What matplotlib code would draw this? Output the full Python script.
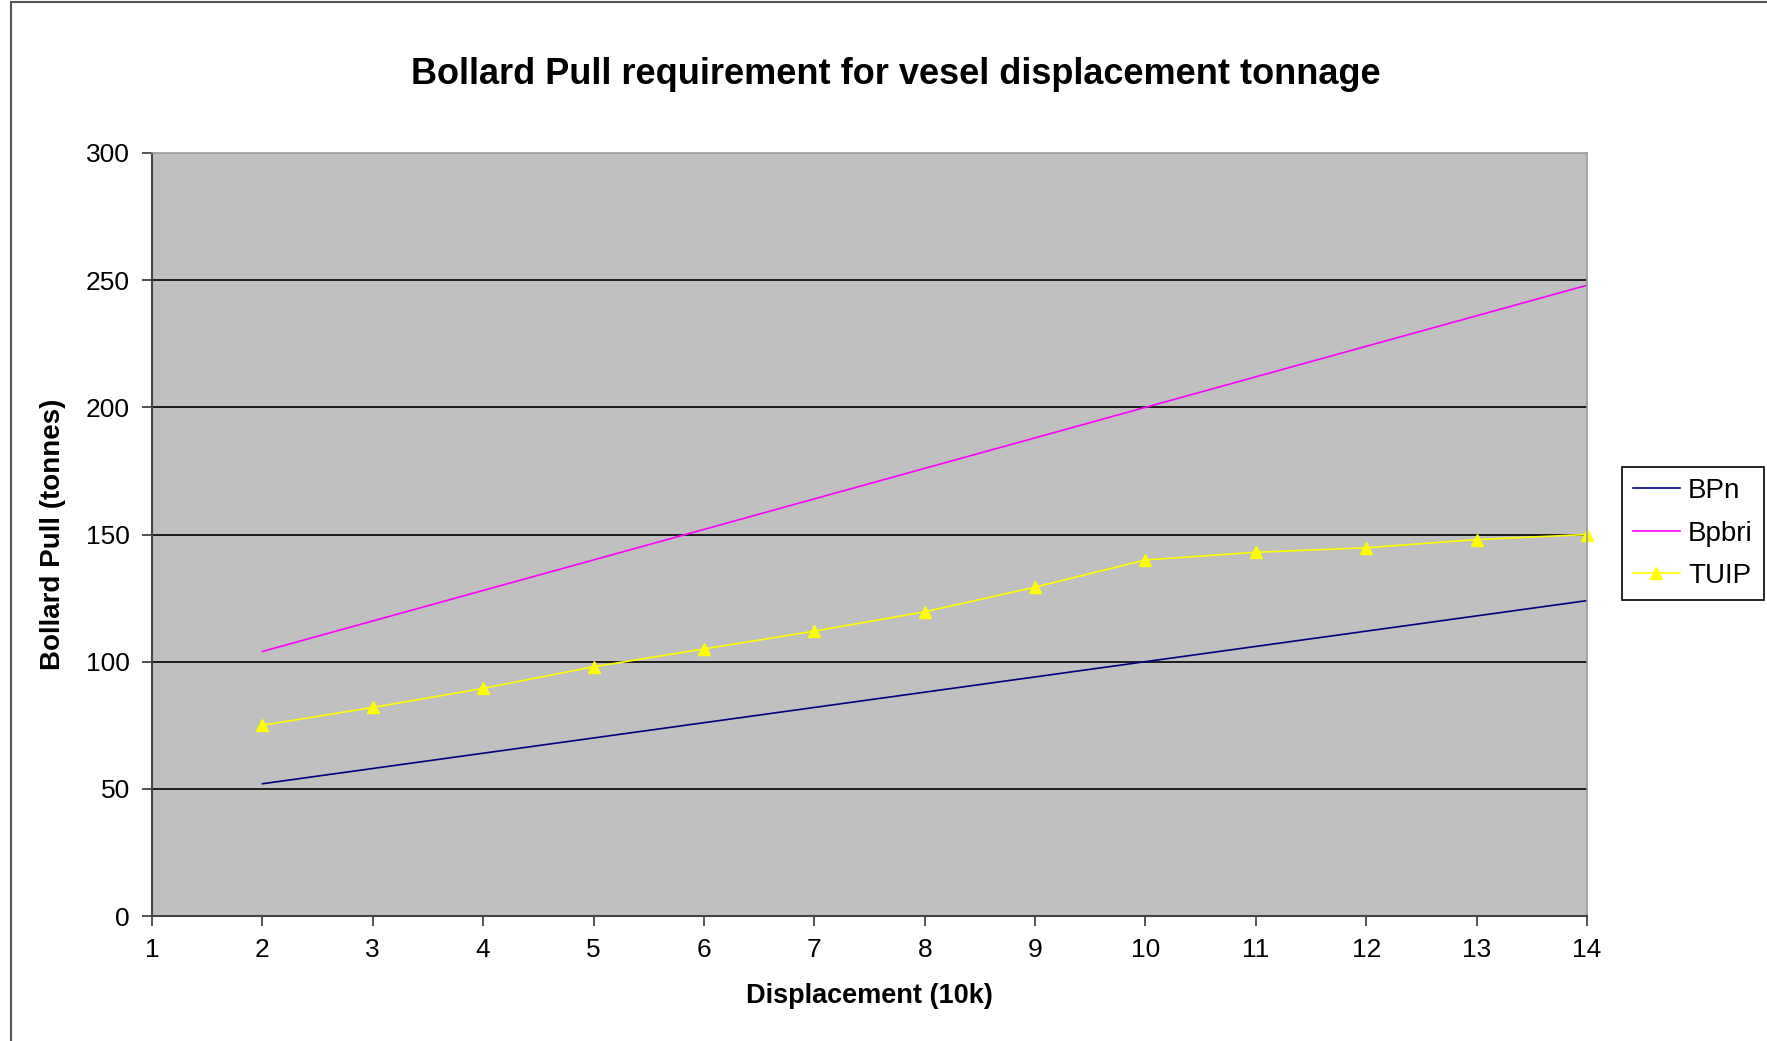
import matplotlib.pyplot as plt
from matplotlib.patches import Rectangle

plt.rcParams['font.family'] = ['Liberation Sans', 'DejaVu Sans']

# data
displacement = [2, 3, 4, 5, 6, 7, 8, 9, 10, 11, 12, 13, 14]
bpn = [52, 58, 64, 70, 76, 82, 88, 94, 100, 106, 112, 118, 124]
bpbri = [104, 116, 128, 140, 152, 164, 176, 188, 200, 212, 224, 236, 248]
tuip = [75, 82, 89.5, 98, 105, 112, 119.6, 129.3, 140, 143, 144.8, 148, 150]
x_ticks = list(range(1, 15))
y_ticks = [0, 50, 100, 150, 200, 250, 300]

W, H = 1767, 1041
fig = plt.figure(figsize=(W / 100, H / 100), dpi=100)

# outer chart border (cut off on right/bottom like the screenshot)
fig.patches.append(Rectangle((11 / W, -0.1), 1.2, 1 - 2 / H + 0.1, transform=fig.transFigure,
                             fill=False, edgecolor='#555555', linewidth=1.5))

ax = fig.add_axes([152 / W, 1 - 916 / H, (1587 - 152) / W, (916 - 153) / H])
ax.set_facecolor('#C0C0C0')

ax.plot(displacement, bpn, color='#000080', linewidth=1.2, label='BPn')
ax.plot(displacement, bpbri, color='#FF00FF', linewidth=1.2, label='Bpbri')
ax.plot(displacement, tuip, color='#FFFF00', linewidth=1.2, marker='^', markersize=9,
        label='TUIP', clip_on=False)

ax.set_xlim(1, 14)
ax.set_ylim(0, 300)
ax.set_xticks(x_ticks)
ax.set_yticks(y_ticks)
for y in y_ticks[1:-1]:
    ax.axhline(y, color='black', linewidth=1.2, zorder=0.5)

for side in ['left', 'bottom']:
    ax.spines[side].set_color('#444444')
    ax.spines[side].set_linewidth(1.5)
for side in ['top', 'right']:
    ax.spines[side].set_color('#999999')
    ax.spines[side].set_linewidth(1.2)

ax.tick_params(axis='both', direction='out', length=7, width=1.3, color='#444444', labelsize=19)
ax.tick_params(axis='x', pad=9)
ax.tick_params(axis='y', pad=9)

fig.text(0.507, 0.928, 'Bollard Pull requirement for vesel displacement tonnage',
         ha='center', va='center', fontsize=26, fontweight='bold')
fig.text(0.492, 0.043, 'Displacement (10k)', ha='center', va='center',
         fontsize=19.5, fontweight='bold')
fig.text(0.030, 0.487, 'Bollard Pull (tonnes)', ha='center', va='center',
         fontsize=20, fontweight='bold', rotation=90)

leg = fig.legend(loc='center', bbox_to_anchor=(0.958, 0.4875), fontsize=20,
                 frameon=True, fancybox=False, edgecolor='black', framealpha=1,
                 handlelength=1.7, handletextpad=0.3, borderpad=0.4, labelspacing=0.6,
                 markerscale=0.9)
leg.get_frame().set_linewidth(1.2)

fig.savefig('out.png', dpi=100)
